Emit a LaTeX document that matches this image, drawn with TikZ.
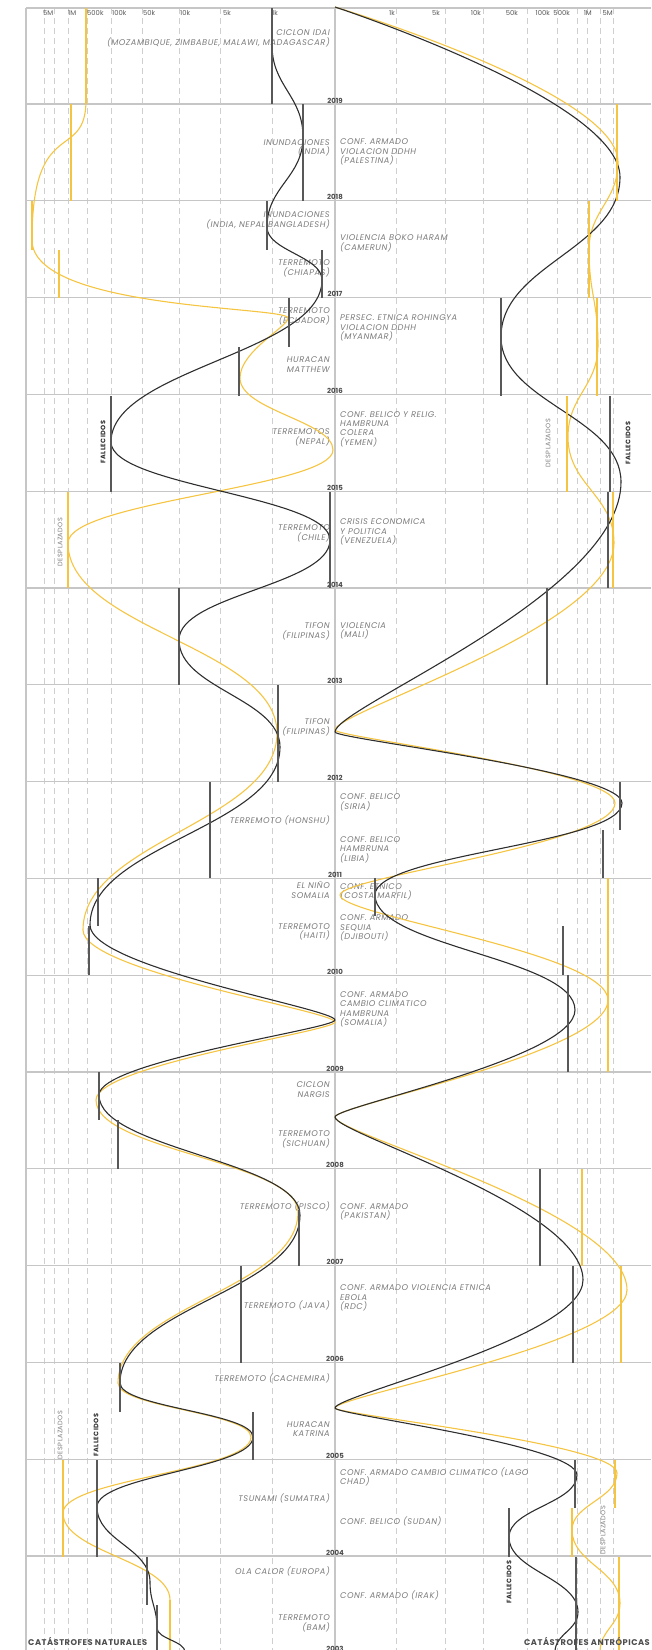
\documentclass[tikz,border=0pt]{standalone}
\usepackage{fontspec}
\setmainfont{Poppins}
\newfontfamily\widefont[LetterSpace=6]{Poppins}
\definecolor{gold}{HTML}{F5C542}
\definecolor{ink}{HTML}{2E2E2E}
\definecolor{rule}{HTML}{C6C6C6}
\definecolor{txt}{HTML}{7C7C7C}

\begin{document}
\begin{tikzpicture}[
  x=1pt, y=1pt,
  every node/.style={font=\widefont\fontsize{8.3}{9.4}\selectfont},
  grid/.style      = {rule!85, line width=0.6pt, dash pattern=on 6pt off 4pt},
  yearline/.style  = {rule, line width=1.1pt},
  frame/.style     = {rule, line width=1.1pt},
  lblL/.style      = {anchor=east, align=right, text=txt, inner sep=0pt, font=\widefont\itshape\fontsize{8.3}{9.4}\selectfont},
  lblR/.style      = {anchor=west, align=left, text=txt, inner sep=0pt, font=\widefont\itshape\fontsize{8.3}{9.4}\selectfont},
  tick/.style      = {text=ink!80, inner sep=0pt, font=\fontsize{6.8}{7}\selectfont},
  yr/.style        = {anchor=south, text=ink!85, inner sep=0.6pt, font=\bfseries\fontsize{7}{7}\selectfont},
  side/.style      = {rotate=90, inner sep=0pt, font=\widefont\fontsize{6.5}{7}\selectfont},
  corner/.style    = {text=ink!85, inner sep=0pt, font=\widefont\bfseries\fontsize{8.3}{9}\selectfont},
  deadbar/.style   = {ink!80, line width=1.6pt},
  movbar/.style    = {gold, line width=1.6pt},
  deadcurve/.style = {ink, line width=1.1pt},
  movcurve/.style  = {gold, line width=1.1pt},
]
  \useasboundingbox (0,0) rectangle (651,-1650);

  % grid
  \foreach \gx in {44,54,68,87,111,142,179,220,272,396,445,483,527,557,577,587,600,613}
    \draw[grid] (\gx,-8) -- (\gx,-1650);
  \foreach \k in {0,...,16}{
    \draw[yearline] (26,{-104-96.8*\k}) -- (651,{-104-96.8*\k});
  }
  \draw[yearline, line width=1.8pt] (26,-1071.6) -- (651,-1071.6);
  \draw[frame] (26,-8) -- (651,-8);
  \draw[frame] (26,-8) -- (26,-1650);
  \draw[frame] (335,-8) -- (335,-1650);
  \foreach \k in {0,...,16}{
    \pgfmathtruncatemacro\yr{2019-\k}
    \node[yr] (y\yr) at (335,{-104-96.8*\k}) {\yr};
  }

  % scale
  \foreach \gx/\t [count=\i] in {43/5M,68/1M,87/500k,112/100k,143/50k,180/10k,223/5k,272/1k}
    \node[tick, anchor=west] (tl\i) at (\gx,-13) {\t};
  \foreach \gx/\t [count=\i] in {395/1k,440/5k,481/10k,518/50k,550/100k,570/500k,592/1M,613/5M}
    \node[tick, anchor=east] (tr\i) at (\gx,-13) {\t};

  % natural (left)
  \foreach \y/\t [count=\i] in {
      38.5/{CICLON IDAI\\(MOZAMBIQUE, ZIMBABUE, MALAWI, MADAGASCAR)},
      148/{INUNDACIONES\\(INDIA)},
      220.5/{INUNDACIONES\\(INDIA, NEPAL BANGLADESH)},
      268.5/{TERREMOTO\\(CHIAPAS)},
      316.5/{TERREMOTO\\(ECUADOR)},
      364.5/{HURACAN\\MATTHEW},
      437.5/{TERREMOTOS\\(NEPAL)},
      533.5/{TERREMOTO\\(CHILE)},
      631.5/{TIFON\\(FILIPINAS)},
      727.5/{TIFON\\(FILIPINAS)},
      820/{TERREMOTO (HONSHU)},
      890/{EL NIÑO\\SOMALIA},
      932/{TERREMOTO\\(HAITI)},
      1089.5/{CICLON\\NARGIS},
      1139.5/{TERREMOTO\\(SICHUAN)},
      1206/{TERREMOTO (PISCO)},
      1305/{TERREMOTO (JAVA)},
      1378/{TERREMOTO (CACHEMIRA)},
      1429/{HURACAN\\KATRINA},
      1498/{TSUNAMI (SUMATRA)},
      1571/{OLA CALOR (EUROPA)},
      1623.5/{TERREMOTO\\(BAM)}}
    \node[lblL] (nat\i) at (330,-\y) {\t};

  % anthropic (right)
  \foreach \y/\t [count=\i] in {
      152/{CONF. ARMADO\\VIOLACION DDHH\\(PALESTINA)},
      243.5/{VIOLENCIA BOKO HARAM\\(CAMERUN)},
      328/{PERSEC. ETNICA ROHINGYA\\VIOLACION DDHH\\(MYANMAR)},
      429/{CONF. BELICO Y RELIG.\\HAMBRUNA\\COLERA\\(YEMEN)},
      532/{CRISIS ECONOMICA\\Y POLITICA\\(VENEZUELA)},
      631/{VIOLENCIA\\(MALI)},
      802.5/{CONF. BELICO\\(SIRIA)},
      849.5/{CONF. BELICO\\HAMBRUNA\\(LIBIA)},
      892/{CONF. ETNICO\\(COSTA MARFIL)},
      928/{CONF. ARMADO\\SEQUIA\\(DJIBOUTI)},
      1009.5/{CONF. ARMADO\\CAMBIO CLIMATICO\\HAMBRUNA\\(SOMALIA)},
      1212/{CONF. ARMADO\\(PAKISTAN)},
      1298/{CONF. ARMADO VIOLENCIA ETNICA\\EBOLA\\(RDC)},
      1477/{CONF. ARMADO CAMBIO CLIMATICO (LAGO\\CHAD)},
      1521/{CONF. BELICO (SUDAN)},
      1595/{CONF. ARMADO (IRAK)}}
    \node[lblR] (ant\i) at (340,-\y) {\t};

  % curves: x / y / handle
  \foreach \x/\y/\f [remember=\x as \px (initially 86), remember=\y as \py (initially 8), remember=\f as \pf (initially 0.3)] in
      {86/100/0.45, 32/240/0.9, 288/318/0.15, 240/378/0.45, 333/450/0.4, 68/543/0.45, 277/733/0.45,
       83/930/0.45, 335/1022/0.12, 96/1100/0.45, 298/1212/0.45, 118/1383/0.45, 251/1437/0.45,
       63/1513/0.45, 170/1600/0.45, 170/1652/0.45}
    \draw[movcurve] (\px,-\py) .. controls (\px,{-\py-\pf*(\y-\py)}) and (\x,{-\y+\f*(\y-\py)}) .. (\x,-\y);
  \foreach \x/\y/\f [remember=\x as \px (initially 272), remember=\y as \py (initially 8), remember=\f as \pf (initially 0.3)] in
      {272/45/0.45, 303/137/0.45, 267/227/0.45, 322/280/0.45, 111/442/0.45, 330/540/0.45, 179/640/0.45,
       280/747/0.45, 90/925/0.45, 335/1020/0.12, 99/1095/0.45, 300/1215/0.45, 120/1383/0.45,
       253/1437/0.45, 97/1507/0.45, 150/1582/0.45, 157/1628/0.45, 185/1652/0.45}
    \draw[deadcurve] (\px,-\py) .. controls (\px,{-\py-\pf*(\y-\py)}) and (\x,{-\y+\f*(\y-\py)}) .. (\x,-\y);
  \foreach \x/\y/\f [remember=\x as \px (initially 335), remember=\y as \py (initially 7), remember=\f as \pf (initially 0)] in
      {618/162/0.45, 589/250/0.45, 598/345/0.45, 568/437/0.45, 614/543/0.45, 335/730/0.1, 615/803/0.45,
       340/895/0.2, 608/1000/0.45, 335/1117/0.1, 627/1290/0.45, 335/1408/0.1, 617/1473/0.45,
       572/1530/0.45, 620/1603/0.45, 600/1652/0.45}
    \draw[movcurve] (\px,-\py) .. controls (\px,{-\py-\pf*(\y-\py)}) and (\x,{-\y+\f*(\y-\py)}) .. (\x,-\y);
  \foreach \x/\y/\f [remember=\x as \px (initially 335), remember=\y as \py (initially 7), remember=\f as \pf (initially 0)] in
      {620/177/0.45, 501/337/0.45, 621/482/0.45, 335/732/0.1, 622/803/0.45, 375/895/0.45, 575/1010/0.45,
       335/1117/0.1, 583/1280/0.45, 335/1408/0.1, 577/1475/0.45, 509/1537/0.45, 578/1612/0.45, 555/1652/0.45}
    \draw[deadcurve] (\px,-\py) .. controls (\px,{-\py-\pf*(\y-\py)}) and (\x,{-\y+\f*(\y-\py)}) .. (\x,-\y);

  % bars: x / from / to
  \foreach \x/\a/\b in {86/8/104, 71/104/201, 32/201/250, 59/250/298, 68/492/588, 63/1460/1557,
      617/104/201, 589/201/298, 597/298/396, 567/396/492, 613/492/588, 608/878/1072, 582/1169/1266,
      621/1266/1363, 615/1460/1508, 572/1508/1557, 619/1557/1650}
    \draw[movbar] (\x,-\a) -- (\x,-\b);
  \foreach \x/\a/\b in {272/8/104, 303/104/201, 267/201/250, 322/250/298, 289/298/347, 239/347/396,
      111/396/492, 330/492/588, 179/588/685, 278/685/782, 210/782/878, 98/878/926, 89/926/975,
      99/1072/1120, 118/1120/1169, 299/1210/1266, 241/1266/1363, 120/1363/1412, 253/1412/1460,
      97/1460/1557, 147/1557/1605, 157/1605/1650,
      501/298/396, 610/396/492, 608/492/588, 547/588/685, 620/782/830, 603/830/878, 375/878/916,
      563/926/975, 568/975/1072, 540/1169/1266, 573/1266/1363, 575/1460/1508, 509/1508/1557, 576/1557/1650}
    \draw[deadbar] (\x,-\a) -- (\x,-\b);

  % series names
  \node[side, text=ink, font=\widefont\bfseries\fontsize{6.5}{7}\selectfont] (fall1) at (103,-442) {FALLECIDOS};
  \node[side, text=txt] (desp1) at (60,-542) {DESPLAZADOS};
  \node[side, text=txt] (desp2) at (548,-443) {DESPLAZADOS};
  \node[side, text=ink, font=\widefont\bfseries\fontsize{6.5}{7}\selectfont] (fall2) at (628,-443) {FALLECIDOS};
  \node[side, text=txt] (desp3) at (60,-1435) {DESPLAZADOS};
  \node[side, text=ink, font=\widefont\bfseries\fontsize{6.5}{7}\selectfont] (fall3) at (96,-1435) {FALLECIDOS};
  \node[side, text=txt] (desp4) at (603,-1530) {DESPLAZADOS};
  \node[side, text=ink, font=\widefont\bfseries\fontsize{6.5}{7}\selectfont] (fall4) at (509,-1582) {FALLECIDOS};

  \node[corner, anchor=base west] (natural) at (28,-1645) {CATÁSTROFES NATURALES};
  \node[corner, anchor=base east] (antropica) at (650,-1645) {CATÁSTROFES ANTRÓPICAS};
\end{tikzpicture}
\end{document}
